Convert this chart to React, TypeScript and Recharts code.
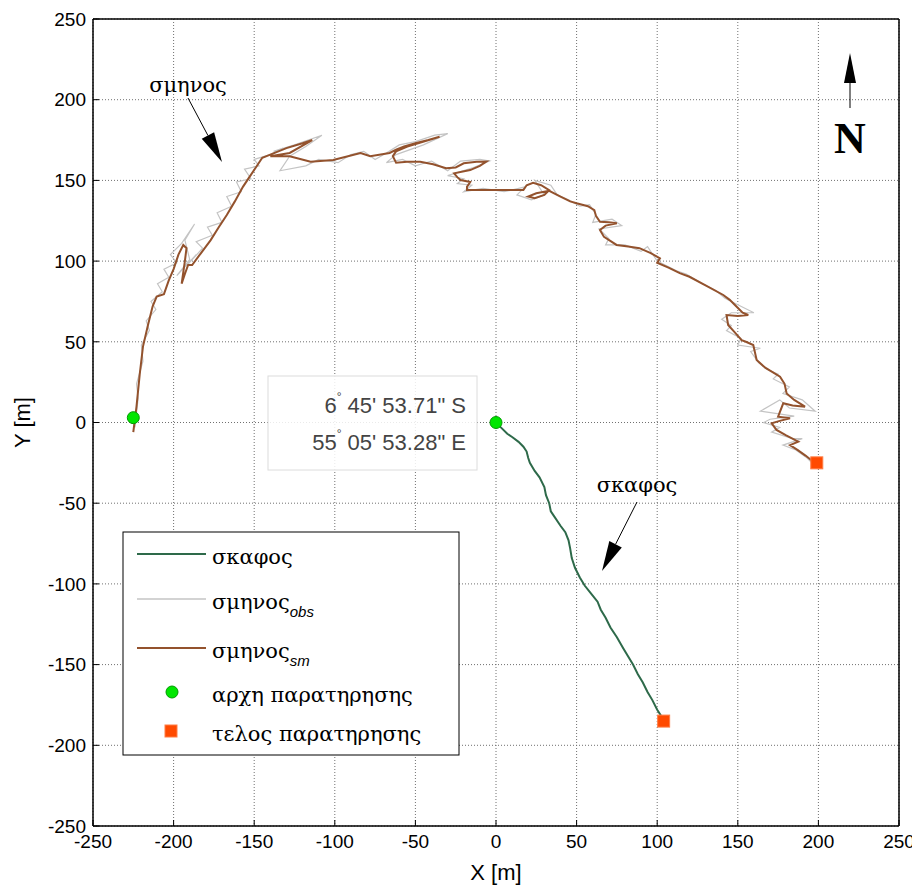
import { ScatterChart, Scatter, XAxis, YAxis, CartesianGrid, Label } from "recharts";

const AXIS_TICKS = [-250, -200, -150, -100, -50, 0, 50, 100, 150, 200, 250];

// ship track (σκαφος), metres
const shipTrack: [number, number][] = [
  [0, 0], [3, -3], [7, -7], [10, -9], [14, -12], [17, -15], [19, -18], [20, -22],
  [21, -25], [24, -30], [27, -34], [30, -40], [31, -45], [33, -50], [34, -55],
  [36, -58], [40, -64], [43, -68], [45, -73], [46, -78], [47, -84], [49, -90],
  [52, -96], [55, -101], [59, -106], [63, -111], [65, -116], [68, -121], [71, -127],
  [75, -133], [79, -140], [82, -145], [85, -150], [88, -156], [91, -161], [94, -167],
  [97, -172], [100, -178], [102, -181], [104, -185],
];

// raw swarm positions (σμηνος obs)
const swarmObs: [number, number][] = [
  [-224, -3], [-222, 15], [-223, 24], [-219, 38], [-220, 48], [-215, 57], [-217, 63],
  [-211, 70], [-214, 75], [-207, 81], [-210, 86], [-203, 90], [-206, 95], [-198, 99],
  [-202, 104], [-195, 111], [-187, 123], [-193, 113], [-190, 101], [-198, 91],
  [-186, 104], [-192, 97], [-182, 108], [-186, 112], [-176, 116], [-179, 121],
  [-170, 124], [-173, 130], [-164, 134], [-167, 140], [-158, 143], [-161, 149],
  [-152, 151], [-156, 157], [-147, 159], [-150, 163], [-140, 166], [-132, 170],
  [-138, 168], [-125, 172], [-108, 178], [-118, 171], [-128, 165], [-134, 156],
  [-118, 159], [-110, 163], [-98, 161], [-90, 166], [-82, 168], [-75, 163], [-68, 167],
  [-60, 172], [-50, 174], [-38, 178], [-30, 179], [-45, 172], [-62, 166], [-68, 161],
  [-58, 163], [-50, 159], [-40, 162], [-30, 156], [-22, 162], [-10, 163], [-4, 162],
  [-14, 158], [-30, 153], [-20, 151], [-24, 148], [-15, 147], [-20, 143], [-8, 145],
  [5, 143], [18, 146], [13, 141], [22, 138], [30, 141], [24, 150], [34, 147], [38, 141],
  [45, 138], [52, 134], [58, 135], [62, 129], [60, 124], [72, 126], [78, 122], [64, 120],
  [70, 114], [68, 110], [80, 110], [90, 106], [94, 109], [100, 100], [104, 98], [112, 94],
  [118, 92], [128, 86], [136, 82], [142, 77], [150, 73], [160, 68], [146, 68], [140, 64],
  [146, 60], [143, 57], [152, 52], [150, 48], [164, 46], [158, 44], [163, 37], [168, 33],
  [175, 30], [172, 27], [182, 22], [178, 18], [190, 14], [198, 7], [182, 9], [176, 14],
  [164, 7], [185, 4], [170, 2], [166, 0], [176, -3], [171, -6], [184, -10], [190, -10],
  [178, -14], [186, -17], [193, -22], [197, -26],
];

// smoothed swarm track (σμηνος sm)
const swarmSmooth: [number, number][] = [
  [-225, -6], [-223, 10], [-221, 30], [-219, 47], [-216, 60], [-213, 72], [-210.5, 78],
  [-206, 79.5], [-203, 88], [-200, 95], [-197, 104], [-194, 110], [-192, 108],
  [-193, 100], [-195, 86], [-193, 92], [-191, 97.6], [-188.5, 97.6], [-183, 105],
  [-177, 113], [-172, 121], [-167, 128.6], [-162, 137], [-157, 146], [-153, 152],
  [-149, 158], [-145, 164], [-140, 166], [-130, 170], [-120, 173], [-114, 175],
  [-128, 167], [-140, 165], [-128, 165], [-115, 161.6], [-101, 162.6], [-84, 167],
  [-78, 165], [-66, 167], [-62, 169], [-57, 171], [-50, 173], [-42, 175], [-35, 177],
  [-55, 171], [-62, 168], [-64, 165], [-62, 161], [-55, 161.5], [-47, 161.6], [-39, 160],
  [-31, 157.5], [-25, 158], [-20, 160.6], [-12, 161.5], [-6, 161.6], [-10, 159],
  [-16, 156.4], [-26, 154.4], [-24, 152], [-22, 150.2], [-16, 149], [-18, 146],
  [-18, 144], [-10, 144], [0, 144], [10, 144], [17, 144], [19, 147], [23, 148.5],
  [28, 147], [33, 144], [30, 141], [24, 139], [20, 140], [25, 142], [33, 143.5],
  [40, 140], [46, 137], [50, 135.8], [57, 134], [61, 131.6], [62, 128], [64.5, 124.4],
  [70, 124], [75, 123.4], [68, 122], [64.5, 119.3], [67, 115], [74.8, 110], [82, 109],
  [89, 108], [96, 105], [101.7, 101.7], [100, 99], [107, 96], [114, 92.5], [120, 90.3],
  [130, 85], [141, 79], [145, 76], [149, 72], [153, 68], [156.5, 66.6], [150, 66],
  [143, 66.6], [144, 60.4], [148, 56], [152.4, 51], [155, 50], [159.6, 48], [161.7, 38.7],
  [167, 34], [176.2, 28.4], [179, 24], [180.3, 18], [185, 14], [191.7, 9.8], [184, 10.5],
  [178.2, 11.9], [175, 3.6], [182.4, 2.6], [176, 1], [171, -0.5], [174, -4.6], [180, -8],
  [187.5, -11.9], [182.4, -14], [187, -17], [192, -20.5], [196.8, -24.3], [199, -25],
];

const startPoints: [number, number][] = [[-225, 3], [0, 0]];
const endPoints: [number, number][] = [[199, -25], [104, -185]];

const SHIP = "#2e6a4a";
const OBS = "#c4c4c4";
const SMOOTH = "#93522d";
const START_FILL = "#00e600";
const START_EDGE = "#009a00";
const END_FILL = "#ff4a00";
const END_EDGE = "#ff7d45";

const SANS = "'Liberation Sans', Arial, sans-serif";
const GREEK = "'DejaVu Serif', 'Liberation Serif', serif";
const SERIF = "'Liberation Serif', 'DejaVu Serif', serif";

const toXY = (pts: [number, number][]) => pts.map(([x, y]) => ({ x, y }));

const noDot = () => <g />;
const startDot = (p: any) => (
  <circle cx={p.cx} cy={p.cy} r={6} fill={START_FILL} stroke={START_EDGE} strokeWidth={1} />
);
const endDot = (p: any) => (
  <rect x={p.cx - 6} y={p.cy - 6} width={12} height={12} fill={END_FILL} stroke={END_EDGE} strokeWidth={1} />
);

function Arrow({ x1, y1, x2, y2, len, half }: { x1: number; y1: number; x2: number; y2: number; len: number; half: number }) {
  const d = Math.hypot(x2 - x1, y2 - y1);
  const ux = (x2 - x1) / d;
  const uy = (y2 - y1) / d;
  const bx = x2 - ux * len;
  const by = y2 - uy * len;
  const pts = `${x2},${y2} ${bx - uy * half},${by + ux * half} ${bx + uy * half},${by - ux * half}`;
  return (
    <g>
      <line x1={x1} y1={y1} x2={bx} y2={by} stroke="#000" strokeWidth={1} />
      <polygon points={pts} fill="#000" />
    </g>
  );
}

const LEGEND_ITEMS = [
  { kind: "line", color: SHIP, label: "σκαφος", sub: "" },
  { kind: "line", color: OBS, label: "σμηνος", sub: "obs" },
  { kind: "line", color: SMOOTH, label: "σμηνος", sub: "sm" },
  { kind: "start", color: START_FILL, label: "αρχη παρατηρησης", sub: "" },
  { kind: "end", color: END_FILL, label: "τελος παρατηρησης", sub: "" },
];
const LEGEND_ROWS = [546, 591, 640, 684, 723];

function Overlay() {
  return (
    <svg width={912} height={878} style={{ position: "absolute", left: 0, top: 0, pointerEvents: "none" }}>
      {/* legend */}
      <rect x={115} y={524} width={336} height={223} fill="#fff" stroke="#000" strokeWidth={1} />
      {LEGEND_ITEMS.map((it, i) => {
        const cy = LEGEND_ROWS[i];
        return (
          <g key={i}>
            {it.kind === "line" && (
              <line x1={129} y1={cy} x2={198} y2={cy} stroke={it.color} strokeWidth={it.color === OBS ? 1.5 : 2} />
            )}
            {it.kind === "start" && <circle cx={164} cy={cy} r={6} fill={START_FILL} stroke={START_EDGE} />}
            {it.kind === "end" && <rect x={157} y={cy - 6} width={12} height={12} fill={END_FILL} stroke={END_EDGE} />}
            <text x={204} y={cy + 10} fontFamily={GREEK} fontSize={21} fill="#000">
              {it.label}
              {it.sub && (
                <tspan dy={8} fontFamily={SANS} fontStyle="italic" fontSize={15}>
                  {it.sub}
                </tspan>
              )}
            </text>
          </g>
        );
      })}

      {/* coordinates box */}
      <rect x={260} y={368} width={209} height={94} fill="#fff" fillOpacity={0.85} stroke="#dcdcdc" strokeWidth={1} />
      <text x={458} y={405} textAnchor="end" fontFamily={SANS} fontSize={22} fill="#444">
        6<tspan dy={-12} fontSize={12}>°</tspan>
        <tspan dy={12}> 45' 53.71" S</tspan>
      </text>
      <text x={458} y={442} textAnchor="end" fontFamily={SANS} fontSize={22} fill="#444">
        55<tspan dy={-12} fontSize={12}>°</tspan>
        <tspan dy={12}> 05' 53.28" E</tspan>
      </text>

      {/* annotations */}
      <text x={180} y={84} textAnchor="middle" fontFamily={GREEK} fontSize={21} fill="#000">σμηνος</text>
      <Arrow x1={180} y1={90} x2={214} y2={154} len={30} half={7} />
      <text x={629} y={484} textAnchor="middle" fontFamily={GREEK} fontSize={21} fill="#000">σκαφος</text>
      <Arrow x1={629} y1={494} x2={594} y2={563} len={30} half={7} />

      {/* north arrow */}
      <Arrow x1={842} y1={100} x2={842} y2={45} len={30} half={6} />
      <text x={842} y={145} textAnchor="middle" fontFamily={SERIF} fontSize={44} fontWeight="bold" fill="#000">N</text>
    </svg>
  );
}

const tickStyle = { fill: "#000", fontSize: 19, fontFamily: SANS };
const axisLine = { stroke: "#000", strokeWidth: 1.5 };
const blank = () => "";

export default function App() {
  return (
    <div style={{ position: "relative", width: 912, height: 878 }}>
      <ScatterChart width={912} height={878} margin={{ top: 5, right: 0, bottom: 0, left: 0 }}>
        <CartesianGrid xAxisId="b" yAxisId="l" stroke="#707070" strokeDasharray="1 2" />
        <XAxis
          xAxisId="b"
          type="number"
          dataKey="x"
          domain={[-250, 250]}
          ticks={AXIS_TICKS}
          interval={0}
          height={60}
          tickSize={-6}
          tickMargin={15}
          tick={tickStyle}
          axisLine={axisLine}
          tickLine={{ stroke: "#000" }}
        >
          <Label value="X [m]" position="insideBottom" offset={6} style={{ fontSize: 22, fill: "#000", fontFamily: SANS }} />
        </XAxis>
        <XAxis
          xAxisId="t"
          orientation="top"
          type="number"
          dataKey="x"
          domain={[-250, 250]}
          ticks={AXIS_TICKS}
          interval={0}
          height={6}
          tickSize={-6}
          tickFormatter={blank}
          axisLine={axisLine}
          tickLine={{ stroke: "#000" }}
        />
        <YAxis
          yAxisId="l"
          type="number"
          dataKey="y"
          domain={[-250, 250]}
          ticks={AXIS_TICKS}
          interval={0}
          width={85}
          tickSize={-6}
          tickMargin={13}
          tick={tickStyle}
          axisLine={axisLine}
          tickLine={{ stroke: "#000" }}
        >
          <Label
            value="Y [m]"
            angle={-90}
            position="insideLeft"
            offset={14}
            style={{ fontSize: 22, fill: "#000", fontFamily: SANS, textAnchor: "middle" }}
          />
        </YAxis>
        <YAxis
          yAxisId="r"
          orientation="right"
          type="number"
          dataKey="y"
          domain={[-250, 250]}
          ticks={AXIS_TICKS}
          interval={0}
          width={21}
          tickSize={-6}
          tickFormatter={blank}
          axisLine={axisLine}
          tickLine={{ stroke: "#000" }}
        />
        <Scatter
          name="σμηνος obs"
          data={toXY(swarmObs)}
          xAxisId="b"
          yAxisId="l"
          line={{ stroke: OBS, strokeWidth: 1.2 }}
          lineType="joint"
          shape={noDot}
          isAnimationActive={false}
        />
        <Scatter
          name="σμηνος sm"
          data={toXY(swarmSmooth)}
          xAxisId="b"
          yAxisId="l"
          line={{ stroke: SMOOTH, strokeWidth: 2 }}
          lineType="joint"
          shape={noDot}
          isAnimationActive={false}
        />
        <Scatter
          name="σκαφος"
          data={toXY(shipTrack)}
          xAxisId="b"
          yAxisId="l"
          line={{ stroke: SHIP, strokeWidth: 2 }}
          lineType="joint"
          shape={noDot}
          isAnimationActive={false}
        />
        <Scatter name="αρχη" data={toXY(startPoints)} xAxisId="b" yAxisId="l" shape={startDot} isAnimationActive={false} />
        <Scatter name="τελος" data={toXY(endPoints)} xAxisId="b" yAxisId="l" shape={endDot} isAnimationActive={false} />
      </ScatterChart>
      <Overlay />
    </div>
  );
}
